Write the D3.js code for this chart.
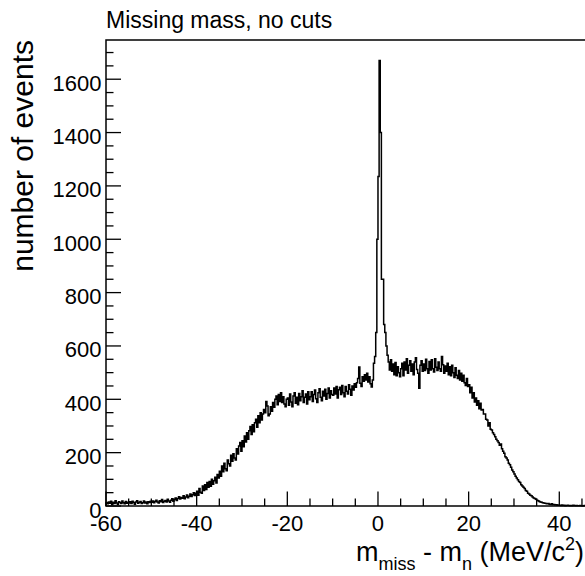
<!DOCTYPE html>
<html><head><meta charset="utf-8">
<script src="https://cdn.jsdelivr.net/npm/d3@7"></script>
<style>
html,body{margin:0;padding:0;background:#fff;}
text{font-family:"Liberation Sans",Arial,Helvetica,sans-serif;fill:#000;}
</style></head>
<body><svg id="c" width="585" height="576"></svg>
<script>
// Histogram: 0.25 MeV bins starting at -60
const binStart = -60;
const binWidth = 0.25;
const counts = [
// -60 .. -55
12,8,15,10,18,6,14,9,20,11,7,16,13,9,19,12,8,17,10,14,
// -55 .. -50
11,16,9,18,13,7,15,20,10,14,17,9,12,19,11,15,8,16,13,18,
// -50 .. -45
14,19,12,17,22,15,11,20,16,24,13,18,21,15,25,19,14,22,27,18,
// -45 .. -40
24,30,21,28,35,26,32,29,38,27,34,41,31,37,45,36,42,50,39,48,
// -40 .. -35
55,40,66,52,48,75,58,80,62,88,70,92,74,100,82,95,108,86,118,105,
// -35 .. -30
130,112,150,128,160,140,132,172,158,150,190,168,196,180,172,215,195,225,238,205,
// -30 .. -25
245,222,262,240,275,250,282,298,268,305,278,312,325,295,338,312,350,322,345,362,
// -25 .. -20
350,392,375,338,345,372,355,388,370,400,412,380,418,392,425,388,410,382,372,400,
// -20 .. -15
405,378,420,390,372,412,425,385,408,380,422,395,410,432,388,408,420,382,428,398,
// -15 .. -10
410,428,392,418,435,402,388,425,440,408,395,430,412,438,400,422,442,405,432,418,
// -10 .. -5
415,442,420,448,405,436,445,418,452,425,410,448,430,420,455,438,415,450,435,458,
// -5 .. 0
445,462,478,521,460,448,485,468,492,472,498,465,485,458,446,472,535,560,650,1000,
// 0 .. 5
1235,1670,1400,850,850,680,650,600,565,540,510,548,505,532,492,538,488,522,500,485,
// 5 .. 10
515,535,488,540,510,552,498,528,545,505,532,492,540,556,512,498,441,528,545,505,
// 10 .. 15
532,508,550,515,498,542,510,548,515,502,552,520,508,540,515,505,560,530,498,525,
// 15 .. 20
505,535,492,522,488,528,500,482,518,490,478,508,472,498,468,490,462,452,478,448,
// 20 .. 25
455,425,445,405,425,390,405,378,395,365,385,360,362,345,345,325,322,300,312,288,
// 25 .. 30
285,275,268,260,250,245,238,228,232,215,205,198,185,180,172,160,155,145,135,128,
// 30 .. 35
120,112,105,98,92,88,80,75,70,66,58,55,48,45,40,38,34,30,28,25,
// 35 .. 40
22,20,17,15,14,12,11,10,9,8,9,7,6,8,5,6,4,5,3,4,
// 40 .. 46
3,2,4,2,3,1,2,3,2,1,2,1,3,2,1,2,1,1,2,1,0,1,2,1
];
const xDomain = [-60, 46];
const yDomain = [0, 1747];
const xMajorTicks = [-60, -40, -20, 0, 20, 40];
const yMajorTicks = [0, 200, 400, 600, 800, 1000, 1200, 1400, 1600];
const titleText = "Missing mass, no cuts";
const yTitle = "number of events";

const svg = d3.select("#c");
const L = 106, R = 586.5, T = 40, B = 506;
const x = d3.scaleLinear().domain(xDomain).range([L, R]);
const y = d3.scaleLinear().domain(yDomain).range([B, T]);

// histogram step path
const bins = counts.map((c, i) => ({x0: binStart + i * binWidth, x1: binStart + (i + 1) * binWidth, c}));
let pts = [[bins[0].x0, 0]];
bins.forEach(b => { pts.push([b.x0, b.c]); pts.push([b.x1, b.c]); });
pts.push([bins[bins.length - 1].x1, 0]);
const line = d3.line().x(d => x(d[0])).y(d => y(d[1]));
svg.append("path").attr("d", line(pts)).attr("fill", "none")
  .attr("stroke", "#000").attr("stroke-width", 1.5).attr("stroke-linejoin", "miter");

// frame
svg.append("rect").attr("x", L).attr("y", T).attr("width", R - L).attr("height", B - T)
  .attr("fill", "none").attr("stroke", "#000").attr("stroke-width", 1.5);

// x axis ticks (ROOT style: inward ticks)
const xMinor = d3.range(-60, 46.01, 5);
svg.append("g").selectAll("line").data(xMinor).join("line")
  .attr("x1", d => x(d)).attr("x2", d => x(d))
  .attr("y1", B).attr("y2", d => B - (xMajorTicks.includes(d) ? 14.5 : 7.5))
  .attr("stroke", "#000").attr("stroke-width", 1.3);
svg.append("g").selectAll("text").data(xMajorTicks).join("text")
  .attr("x", d => x(d)).attr("y", B + 25).attr("text-anchor", "middle")
  .attr("font-size", 22).text(d => d);

// y axis ticks
const yMinor = d3.range(0, 1747, 50);
svg.append("g").selectAll("line").data(yMinor).join("line")
  .attr("y1", d => y(d)).attr("y2", d => y(d))
  .attr("x1", L).attr("x2", d => L + (yMajorTicks.includes(d) ? 15 : 7.5))
  .attr("stroke", "#000").attr("stroke-width", 1.3);
svg.append("g").selectAll("text").data(yMajorTicks).join("text")
  .attr("x", L - 4.5).attr("y", d => y(d) + 11.5).attr("text-anchor", "end")
  .attr("font-size", 22).text(d => d);

// title
svg.append("text").attr("x", L).attr("y", 28).attr("font-size", 23).text(titleText);

// y title
svg.append("text").attr("transform", "translate(33,40) rotate(-90)")
  .attr("text-anchor", "end").attr("font-size", 30).text(yTitle);

// x title with sub/superscripts
const xt = svg.append("text").attr("x", 584).attr("y", 561).attr("text-anchor", "end").attr("font-size", 27);
xt.append("tspan").text("m");
xt.append("tspan").attr("font-size", 18).attr("dy", 9).text("miss");
xt.append("tspan").attr("dy", -9).text(" - m");
xt.append("tspan").attr("font-size", 18).attr("dy", 9).text("n");
xt.append("tspan").attr("dy", -9).text(" (MeV/c");
xt.append("tspan").attr("font-size", 18).attr("dy", -11).text("2");
xt.append("tspan").attr("dy", 11).text(")");
</script>
</body></html>
